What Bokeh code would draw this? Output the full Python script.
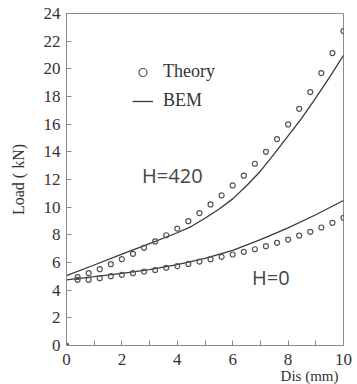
from bokeh.plotting import figure
from bokeh.models import Range1d, FixedTicker, Label, Legend, LegendItem, Title
from bokeh.embed import file_html
from bokeh.resources import INLINE

# ---- data ----
theory_x = [0.4, 0.8, 1.2, 1.6, 2.0, 2.4, 2.8, 3.2, 3.6, 4.0, 4.4, 4.8, 5.2,
            5.6, 6.0, 6.4, 6.8, 7.2, 7.6, 8.0, 8.4, 8.8, 9.2, 9.6, 10.0]
theory_h420 = [4.95, 5.23, 5.52, 5.88, 6.24, 6.63, 7.06, 7.52, 7.97, 8.45,
               8.99, 9.57, 10.2, 10.85, 11.57, 12.28, 13.14, 14.0, 14.92,
               15.98, 17.11, 18.32, 19.69, 21.14, 22.73]
theory_h0 = [4.75, 4.75, 4.87, 5.01, 5.11, 5.23, 5.35, 5.45, 5.62, 5.74,
             5.9, 6.07, 6.24, 6.41, 6.58, 6.77, 6.96, 7.18, 7.42, 7.66,
             7.95, 8.22, 8.53, 8.87, 9.23]
origin_x = [0.0]
origin_y = [0.0]

bem_h420_x = [0, 1, 2, 3, 4, 4.5, 5, 5.5, 6, 6.5, 7, 7.5, 8, 8.5, 9, 9.5, 10]
bem_h420_y = [5.05, 5.82, 6.6, 7.37, 8.15, 8.6, 9.2, 9.85, 10.6, 11.55,
              12.6, 13.85, 15.15, 16.45, 17.9, 19.4, 20.97]
bem_h0_x = [0, 1, 2, 3, 4, 5, 6, 7, 8, 9, 10]
bem_h0_y = [4.75, 4.98, 5.22, 5.48, 5.85, 6.3, 6.88, 7.65, 8.5, 9.45, 10.48]

x_ticks = [0, 2, 4, 6, 8, 10]
x_minor = [1, 3, 5, 7, 9]
y_ticks = [0, 2, 4, 6, 8, 10, 12, 14, 16, 18, 20, 22, 24]

SERIF = "Liberation Serif"
TXT = "#333333"
AX = "#8a8a8a"

p = figure(width=357, height=384, output_backend="svg", toolbar_location=None,
           x_range=Range1d(0, 10), y_range=Range1d(0, 24),
           min_border_left=66, min_border_right=14, min_border_top=13,
           min_border_bottom=39)
p.grid.visible = False
p.outline_line_color = AX
p.outline_line_width = 1
p.background_fill_color = "white"
p.border_fill_color = "white"

xa = p.xaxis[0]
xa.ticker = FixedTicker(ticks=x_ticks, minor_ticks=x_minor)
xa.major_tick_in = 5
xa.major_tick_out = 0
xa.minor_tick_in = 5
xa.minor_tick_out = 0
xa.axis_line_color = AX
xa.major_tick_line_color = AX
xa.minor_tick_line_color = AX
xa.major_label_text_font = SERIF
xa.major_label_text_font_size = "17px"
xa.major_label_text_color = TXT
xa.major_label_standoff = 8

ya = p.yaxis[0]
ya.ticker = FixedTicker(ticks=y_ticks, minor_ticks=[])
ya.major_tick_in = 5
ya.major_tick_out = 0
ya.minor_tick_in = 0
ya.minor_tick_out = 0
ya.axis_line_color = AX
ya.major_tick_line_color = AX
ya.major_label_text_font = SERIF
ya.major_label_text_font_size = "17px"
ya.major_label_text_color = TXT
ya.major_label_standoff = 6
ya.axis_label = "Load ( kN)"
ya.axis_label_text_font = SERIF
ya.axis_label_text_font_style = "normal"
ya.axis_label_text_font_size = "16px"
ya.axis_label_text_color = TXT
ya.axis_label_standoff = 14

# x-axis title, right aligned
p.add_layout(Title(text="Dis (mm)", align="right", offset=5, standoff=-4,
                   text_font=SERIF, text_font_size="15px",
                   text_font_style="normal", text_color=TXT), "below")

# BEM lines
l1 = p.line(bem_h420_x, bem_h420_y, line_color="#3a3a3a", line_width=1.3)
p.line(bem_h0_x, bem_h0_y, line_color="#3a3a3a", line_width=1.3)

# Theory circles
c1 = p.scatter(theory_x, theory_h420, marker="circle", size=5,
               fill_alpha=0, line_color="#555555", line_width=1.2)
p.scatter(theory_x, theory_h0, marker="circle", size=5,
          fill_alpha=0, line_color="#555555", line_width=1.2)
p.scatter(origin_x, origin_y, marker="circle", size=5,
          fill_color="#555555", line_color="#555555", line_width=1)

legend = Legend(items=[LegendItem(label="Theory", renderers=[c1]),
                       LegendItem(label="BEM", renderers=[l1])],
                location=(66, 234), orientation="vertical",
                margin=0, padding=0, spacing=8,
                glyph_width=21, glyph_height=20, label_standoff=10,
                label_text_font=SERIF, label_text_font_size="18px",
                label_text_color=TXT, border_line_alpha=0,
                background_fill_alpha=0)
p.add_layout(legend)

p.add_layout(Label(x=2.73, y=12.26, text="H=420", text_font="Open Sans",
                   text_font_size="20px", text_color="#444444",
                   text_baseline="middle", text_align="left"))
p.add_layout(Label(x=6.70, y=4.95, text="H=0", text_font="Open Sans",
                   text_font_size="20px", text_color="#444444",
                   text_baseline="middle", text_align="left"))

open("out.html", "w").write(file_html(p, INLINE))
